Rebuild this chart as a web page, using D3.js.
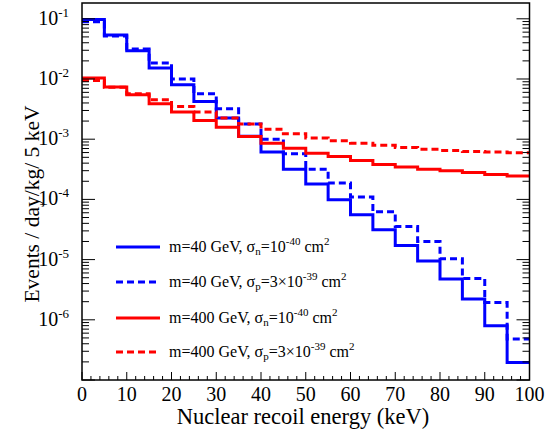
<!DOCTYPE html>
<html>
<head>
<meta charset="utf-8">
<script src="https://cdn.jsdelivr.net/npm/d3@7"></script>
<style>
  body { margin: 0; background: #fff; }
</style>
</head>
<body>
<div id="chart"></div>
<script>
// bin lower edges, 5 keV wide
const binEdges = [0, 5, 10, 15, 20, 25, 30, 35, 40, 45, 50, 55, 60, 65, 70, 75, 80, 85, 90, 95];
const xTicks = [0, 10, 20, 30, 40, 50, 60, 70, 80, 90, 100];
const yTickExps = [-1, -2, -3, -4, -5, -6];

// m=40 GeV, sigma_n = 1e-40
const blueSolid = [0.097, 0.054, 0.0294, 0.0153, 0.0080, 0.00423, 0.00224, 0.00112, 6.1e-4, 3.18e-4,
  1.8e-4, 9.85e-5, 5.55e-5, 3.12e-5, 1.71e-5, 9.5e-6, 4.74e-6, 2.21e-6, 8.0e-7, 1.95e-7];
// m=40 GeV, sigma_p = 3e-39
const blueDash = [0.089, 0.052, 0.0314, 0.0184, 0.0100, 0.00567, 0.0032, 0.00178, 1.0e-3, 5.71e-4,
  3.18e-4, 1.87e-4, 1.10e-4, 6.22e-5, 3.55e-5, 2.0e-5, 1.03e-5, 4.85e-6, 1.94e-6, 4.78e-7];
// m=400 GeV, sigma_n = 1e-40
const redSolid = [0.0104, 0.00733, 0.00547, 0.00388, 0.00282, 0.00204, 0.00158, 0.00111, 8.6e-4, 7.1e-4,
  5.87e-4, 5.16e-4, 4.43e-4, 3.8e-4, 3.44e-4, 3.18e-4, 2.98e-4, 2.8e-4, 2.59e-4, 2.44e-4];
// m=400 GeV, sigma_p = 3e-39
const redDash = [0.0094, 0.0073, 0.00567, 0.00452, 0.00349, 0.00282, 0.00224, 0.00178, 0.00147, 0.00123,
  0.00105, 9.4e-4, 8.6e-4, 7.9e-4, 7.3e-4, 6.84e-4, 6.5e-4, 6.25e-4, 6.1e-4, 5.94e-4];

const series = [
  {vals: blueSolid, color: '#0000ff', dash: null, mass: '40', sig: 'n', pre: '10', exp: '-40'},
  {vals: blueDash, color: '#0000ff', dash: '7,4', mass: '40', sig: 'p', pre: '3\u00d710', exp: '-39'},
  {vals: redSolid, color: '#ff0000', dash: null, mass: '400', sig: 'n', pre: '10', exp: '-40'},
  {vals: redDash, color: '#ff0000', dash: '7,4', mass: '400', sig: 'p', pre: '3\u00d710', exp: '-39'}
];

const width = 559, height = 440;
const padL = 82, padR = 529.5, padT = 3, padB = 380;

const svg = d3.select('#chart').append('svg').attr('width', width).attr('height', height)
  .attr('font-family', '"Liberation Serif", "Times New Roman", serif');

const x = d3.scaleLinear().domain([0, 100]).range([padL, padR]);
const y = d3.scaleLog().domain([1e-7, 0.183]).range([padB, padT]);

// histograms
const line = d3.line().x(d => x(d[0])).y(d => y(d[1])).curve(d3.curveStepAfter);
series.forEach(s => {
  const pts = binEdges.map((e, i) => [e, s.vals[i]]);
  pts.push([100, s.vals[s.vals.length - 1]]);
  svg.append('path').attr('d', line(pts))
    .attr('fill', 'none').attr('stroke', s.color).attr('stroke-width', 3)
    .attr('stroke-dasharray', s.dash);
});

// ticks
const tk = svg.append('g').attr('stroke', '#000').attr('stroke-width', 1);
d3.range(0, 101, 2).forEach(v => {
  const len = v % 10 === 0 ? 8 : 4;
  tk.append('line').attr('x1', x(v)).attr('x2', x(v)).attr('y1', padB).attr('y2', padB - len);
});
const yMinor = [];
for (let e = -7; e <= -1; e++) for (let m = 1; m <= 9; m++) {
  const v = m * Math.pow(10, e);
  if (v <= 0.183) yMinor.push([v, m === 1]);
}
yMinor.forEach(([v, major]) => {
  const len = major ? 13 : 7;
  tk.append('line').attr('x1', padL).attr('x2', padL + len).attr('y1', y(v)).attr('y2', y(v));
  tk.append('line').attr('x1', padR).attr('x2', padR - len).attr('y1', y(v)).attr('y2', y(v));
});

// frame
svg.append('rect').attr('x', padL).attr('y', padT).attr('width', padR - padL).attr('height', padB - padT)
  .attr('fill', 'none').attr('stroke', '#000').attr('stroke-width', 1.5);

// x tick labels
xTicks.forEach(v => {
  svg.append('text').attr('x', x(v)).attr('y', 401).attr('text-anchor', 'middle')
    .attr('font-size', 20).text(v);
});

// y tick labels
yTickExps.forEach(e => {
  const t = svg.append('text').attr('x', 69).attr('y', y(Math.pow(10, e)) + 6)
    .attr('text-anchor', 'end').attr('font-size', 20);
  t.append('tspan').text('10');
  t.append('tspan').attr('font-size', 13).attr('dy', -8).text(e);
});

// axis titles
svg.append('text').attr('x', 303).attr('y', 424).attr('text-anchor', 'middle')
  .attr('font-size', 22.5).text('Nuclear recoil energy (keV)');
svg.append('text').attr('transform', 'translate(39,204) rotate(-90)')
  .attr('text-anchor', 'middle').attr('font-size', 21.5).text('Events / day/kg/ 5 keV');

// legend
const legY = [247, 282, 318, 352];
series.forEach((s, i) => {
  const ly = legY[i];
  svg.append('line').attr('x1', 116).attr('x2', 160).attr('y1', ly).attr('y2', ly)
    .attr('stroke', s.color).attr('stroke-width', 3).attr('stroke-dasharray', s.dash);
  const t = svg.append('text').attr('x', 169).attr('y', ly + 5).attr('font-size', 16);
  t.append('tspan').text('m=' + s.mass + ' GeV, \u03c3');
  t.append('tspan').attr('font-size', 11).attr('dy', 3).text(s.sig);
  t.append('tspan').attr('dy', -3).text('=' + s.pre);
  t.append('tspan').attr('font-size', 11).attr('dy', -7).text(s.exp);
  t.append('tspan').attr('dy', 7).text(' cm');
  t.append('tspan').attr('font-size', 11).attr('dy', -7).text('2');
});
</script>
</body>
</html>
